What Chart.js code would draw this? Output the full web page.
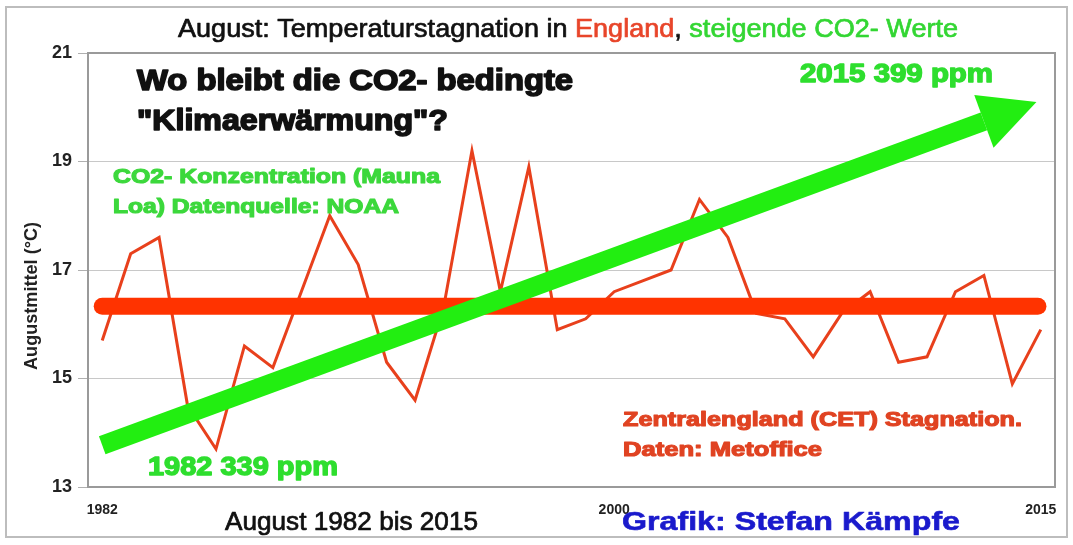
<!DOCTYPE html>
<html>
<head>
<meta charset="utf-8">
<title>August: Temperaturstagnation in England</title>
<script src="https://cdn.jsdelivr.net/npm/chart.js@4/dist/chart.umd.min.js"></script>
<style>
body { margin: 0; background: #fff; }
canvas { display: block; }
</style>
</head>
<body>
<canvas id="cetChart" width="1073" height="545"></canvas>
<script>
// CET August means
const years = [1982, 1983, 1984, 1985, 1986, 1987, 1988, 1989, 1990, 1991, 1992, 1993,
    1994, 1995, 1996, 1997, 1998, 1999, 2000, 2001, 2002, 2003, 2004, 2005,
    2006, 2007, 2008, 2009, 2010, 2011, 2012, 2013, 2014, 2015];
const augustTemps = [15.7, 17.3, 17.6, 14.5, 13.7, 15.6, 15.2, 16.6, 18.0, 17.1, 15.3, 14.6,
    16.3, 19.2, 16.6, 18.9, 15.9, 16.1, 16.6, 16.8, 17.0, 18.3, 17.6, 16.2,
    16.1, 15.4, 16.2, 16.6, 15.3, 15.4, 16.6, 16.9, 14.9, 15.9];

// thick horizontal "Stagnation" line
const meanYears = [1982, 2014.9];
const meanValues = [16.33, 16.33];

// green CO2 arrow (shaft start, base of the arrow head)
const arrowYears = [1982, 2013];
const arrowValues = [13.77, 19.74];

const xTickYears = [1982, 2000, 2015];
const yTicks = [13, 15, 17, 19, 21];

const RED = '#e8401c';
const MEAN_RED = '#ff3300';
const GREEN = '#22ee11';

// draws text, squeezed/stretched to a given width; heavy = extra stroke
function txt(ctx, s, x, y, font, color, w, heavy) {
    ctx.save();
    ctx.font = font;
    ctx.fillStyle = color;
    ctx.strokeStyle = color;
    ctx.textBaseline = 'middle';
    ctx.textAlign = 'left';
    const m = ctx.measureText(s).width;
    ctx.translate(x, y);
    if (w) ctx.scale(w / m, 1);
    ctx.fillText(s, 0, 0);
    if (heavy) {
        ctx.lineWidth = heavy;
        ctx.lineJoin = 'round';
        ctx.strokeText(s, 0, 0);
    }
    ctx.restore();
}

// several coloured parts on one line
function multiTxt(ctx, parts, x, y, font, w, heavy) {
    ctx.save();
    ctx.font = font;
    ctx.textBaseline = 'middle';
    ctx.textAlign = 'left';
    ctx.lineJoin = 'round';
    let total = 0;
    parts.forEach(p => total += ctx.measureText(p[0]).width);
    ctx.translate(x, y);
    ctx.scale(w / total, 1);
    let cx = 0;
    parts.forEach(p => {
        ctx.fillStyle = p[1];
        ctx.strokeStyle = p[1];
        ctx.fillText(p[0], cx, 0);
        if (heavy) {
            ctx.lineWidth = heavy;
            ctx.strokeText(p[0], cx, 0);
        }
        cx += ctx.measureText(p[0]).width;
    });
    ctx.restore();
}

const decoPlugin = {
    id: 'deco',
    beforeDraw(chart) {
        const ctx = chart.ctx;
        ctx.save();
        ctx.fillStyle = '#fff';
        ctx.fillRect(0, 0, chart.width, chart.height);
        ctx.strokeStyle = '#bdbdbd';
        ctx.lineWidth = 2;
        ctx.strokeRect(6, 7, 1061, 530);
        ctx.restore();
    },
    afterDatasetsDraw(chart) {
        // arrow head at the end of the CO2 arrow
        const ctx = chart.ctx;
        const pts = chart.getDatasetMeta(2).data;
        const p0 = pts[0], p1 = pts[pts.length - 1];
        const dx = p1.x - p0.x, dy = p1.y - p0.y;
        const len = Math.sqrt(dx * dx + dy * dy);
        const ux = dx / len, uy = dy / len;
        const headLen = 56, headHalf = 28;
        ctx.save();
        ctx.fillStyle = GREEN;
        ctx.beginPath();
        ctx.moveTo(p1.x + ux * headLen, p1.y + uy * headLen);
        ctx.lineTo(p1.x - uy * headHalf, p1.y + ux * headHalf);
        ctx.lineTo(p1.x + uy * headHalf, p1.y - ux * headHalf);
        ctx.closePath();
        ctx.fill();
        ctx.restore();
    },
    afterDraw(chart) {
        const ctx = chart.ctx;
        const a = chart.chartArea;
        ctx.save();
        ctx.strokeStyle = '#9a9a9a';
        ctx.lineWidth = 2;
        ctx.strokeRect(a.left, a.top, a.right - a.left, a.bottom - a.top);
        ctx.restore();

        const sans = "'Liberation Sans', Arial, sans-serif";

        multiTxt(ctx, [
            ['August: Temperaturstagnation in ', '#111'],
            ['England', '#e8452a'],
            [', ', '#111'],
            ['steigende CO2- Werte', '#33d633']
        ], 178, 30, '26px ' + sans, 780, 0.7);

        txt(ctx, 'Wo bleibt die CO2- bedingte', 137, 82, 'bold 29px ' + sans, '#111', 436, 1.6);
        txt(ctx, '"Klimaerwärmung"?', 137, 122, 'bold 29px ' + sans, '#111', 311, 1.6);

        txt(ctx, 'CO2- Konzentration (Mauna', 113, 177, 'bold 21px ' + sans, '#3cd83c', 327, 1.2);
        txt(ctx, 'Loa) Datenquelle: NOAA', 113, 207, 'bold 21px ' + sans, '#3cd83c', 286, 1.2);
        txt(ctx, '1982 339 ppm', 148, 468, 'bold 26px ' + sans, '#2ede2e', 190, 1.4);
        txt(ctx, '2015 399 ppm', 800, 75, 'bold 26px ' + sans, '#2ede2e', 193, 1.4);

        txt(ctx, 'Zentralengland (CET) Stagnation.', 623, 420, 'bold 21px ' + sans, '#e04322', 399, 1.2);
        txt(ctx, 'Daten: Metoffice', 623, 450, 'bold 21px ' + sans, '#e04322', 199, 1.2);

        txt(ctx, 'August 1982 bis 2015', 225, 523, '25px ' + sans, '#111', 253, 0.7);
        txt(ctx, 'Grafik: Stefan Kämpfe', 622, 523, 'bold 25px ' + sans, '#1a1acc', 338, 0.6);

        // y axis title
        ctx.save();
        ctx.translate(32, 296);
        ctx.rotate(-Math.PI / 2);
        txt(ctx, 'Augustmittel (°C)', -74, 0, 'bold 18px ' + sans, '#222', 148);
        ctx.restore();
    }
};

const ctx = document.getElementById('cetChart').getContext('2d');
const chart = new Chart(ctx, {
    type: 'line',
    data: {
        datasets: [
            {
                label: 'CET August',
                data: years.map((y, i) => ({ x: y, y: augustTemps[i] })),
                borderColor: RED,
                borderWidth: 3,
                pointRadius: 0,
                tension: 0,
                order: 3
            },
            {
                label: 'Stagnation',
                data: meanYears.map((y, i) => ({ x: y, y: meanValues[i] })),
                borderColor: MEAN_RED,
                borderWidth: 17,
                borderCapStyle: 'round',
                pointRadius: 0,
                order: 2
            },
            {
                label: 'CO2',
                data: arrowYears.map((y, i) => ({ x: y, y: arrowValues[i] })),
                borderColor: GREEN,
                borderWidth: 19,
                borderCapStyle: 'butt',
                pointRadius: 0,
                order: 1
            }
        ]
    },
    options: {
        responsive: false,
        animation: false,
        devicePixelRatio: 1,
        layout: { padding: { top: 53, right: 18, left: 0, bottom: 0 } },
        plugins: {
            legend: { display: false },
            tooltip: { enabled: false }
        },
        scales: {
            x: {
                type: 'linear',
                min: 1981.5,
                max: 2015.5,
                afterBuildTicks: s => { s.ticks = xTickYears.map(v => ({ value: v })); },
                afterFit: s => { s.height = 58; },
                grid: { display: false },
                border: { display: true, color: '#9a9a9a', width: 2 },
                ticks: {
                    autoSkip: false,
                    maxRotation: 0,
                    padding: 7,
                    color: '#222',
                    font: { family: "'Liberation Sans', sans-serif", size: 14, weight: 'bold' },
                    callback: v => String(v)
                }
            },
            y: {
                min: 13,
                max: 21,
                afterBuildTicks: s => { s.ticks = yTicks.map(v => ({ value: v })); },
                afterFit: s => { s.width = 88; },
                grid: { color: '#c8c8c8', lineWidth: 1, tickLength: 10, tickColor: '#b0b0b0' },
                border: { display: true, color: '#9a9a9a', width: 2 },
                ticks: {
                    padding: 6,
                    color: '#222',
                    font: { family: "'Liberation Sans', sans-serif", size: 18, weight: 'bold' }
                }
            }
        }
    },
    plugins: [decoPlugin]
});
</script>
</body>
</html>
